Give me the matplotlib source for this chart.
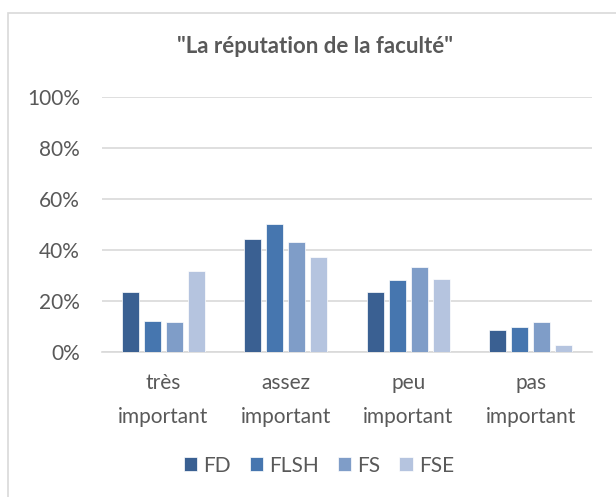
import matplotlib
matplotlib.use("Agg")
import matplotlib.pyplot as plt
import numpy as np
from matplotlib.patches import Rectangle

plt.rcParams['font.family'] = ['Lato', 'DejaVu Sans']

categories = ["très\nimportant", "assez\nimportant", "peu\nimportant", "pas\nimportant"]
series = ["FD", "FLSH", "FS", "FSE"]
FD = [23.3, 44.1, 23.3, 8.5]
FLSH = [11.9, 50.1, 28.0, 9.7]
FS = [11.5, 43.1, 33.3, 11.6]
FSE = [31.5, 37.1, 28.5, 2.7]
values = [FD, FLSH, FS, FSE]
colors = ["#3A6092", "#4676AF", "#7F9DC8", "#B5C4DF"]
title = '"La réputation de la faculté"'
yticks = [0, 20, 40, 60, 80, 100]

W, H = 616, 497
fig = plt.figure(figsize=(W / 100, H / 100), dpi=100)
ax = fig.add_axes([102 / W, 1 - 351.7 / H, 490 / W, 255 / H])

x = np.arange(len(categories))
stride = 0.1796
w = 0.141
for i, (s, v, c) in enumerate(zip(series, values, colors)):
    ax.bar(x + (i - 1.5) * stride, v, width=w, color=c, label=s,
           edgecolor="white", linewidth=0.5, zorder=3)

ax.set_xlim(-0.5, len(categories) - 0.5)
ax.set_ylim(0, 100)
ax.set_yticks(yticks)
ax.set_yticklabels([f"{t}%" for t in yticks])
ax.set_xticks(x)
ax.set_xticklabels(categories, linespacing=1.9)
ax.tick_params(axis='both', length=0, labelsize=15, colors="#595959")
ax.tick_params(axis='y', pad=16)
ax.tick_params(axis='x', pad=15)
ax.grid(axis='y', color="#D9D9D9", linewidth=1.2, zorder=0)
for sp in ["top", "right", "left"]:
    ax.spines[sp].set_visible(False)
ax.spines["bottom"].set_color("#D9D9D9")
ax.spines["bottom"].set_linewidth(1.2)

fig.text(315 / W, 1 - 53 / H, title, ha="center", va="baseline",
         fontsize=16, fontweight="bold", color="#595959")

leg = fig.legend(loc="center", bbox_to_anchor=(319 / W, 1 - 465.5 / H), ncol=4,
                 frameon=False, fontsize=15, labelcolor="#595959",
                 handlelength=0.64, handleheight=0.64, handletextpad=0.3,
                 columnspacing=0.9, borderaxespad=0, borderpad=0)

fig.patches.append(Rectangle((8 / W, -0.05), 1.0, 1 - 12.7 / H + 0.05,
                             transform=fig.transFigure, fill=False,
                             edgecolor="#D9D9D9", linewidth=1.2))

fig.savefig("out.png", dpi=100)
